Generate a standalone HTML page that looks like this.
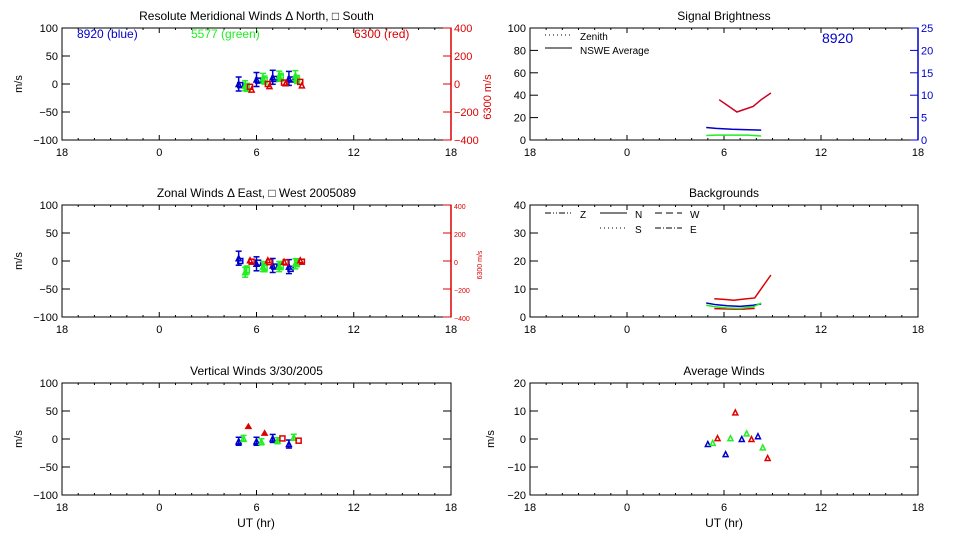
<!DOCTYPE html>
<html><head><meta charset="utf-8"><style>
body{margin:0;background:#fff;width:960px;height:540px;overflow:hidden}
svg{display:block;font-family:"Liberation Sans",sans-serif}
</style></head><body>
<svg id="c" width="960" height="540"></svg>
<script>
// ---- data ----
const xTicks = [-6, 0, 6, 12, 18];
const xTickLabels = ['18', '0', '6', '12', '18'];
// meridional winds
const merT = [5.0, 6.1, 7.1, 8.1];
const merBlue = [0, 8, 12, 10];
const merBlueS = [-2, 6, 9, 8];
const merGreen = [-3, 10, 14, 15];
const merGreenS = [-6, 7, 12, 8];
const merRed = [-20, 0, 10, 15];
const merRedS = [-40, -15, 5, -10];
// zonal winds
const zonBlue = [5, -5, -8, -10];
const zonBlueW = [0, -3, -10, -14];
const zonGreen = [-20, -10, -10, -5];
const zonGreenW = [-16, -12, -8, -3];
const zonRed = [5, 5, -5, 5];
const zonRedW = [-5, -8, -10, -5];
// vertical winds
const verBlue = [-4, -4, 1, -9];
const verGreen = [1, -5, -3, 3];
const verRed = [22, 10, 1, -3];
// average winds
const avgBlue = [-1.8, -5.4, 0, 1];
const avgGreen = [-1.4, 0.3, 2, -3];
const avgRed = [0.3, 9.5, 0, -6.8];
// brightness
const brT = [5.7, 6.2, 6.6, 6.8, 7.2, 7.8, 8.3, 8.9];
const brRed = [36, 31, 27, 25, 27, 30, 36, 42];
const brBlueT = [4.9, 5.5, 6.5, 7.5, 8.3];
const brBlue = [2.8, 2.6, 2.4, 2.3, 2.2];
const brGreen = [1.0, 1.1, 1.1, 1.1, 0.9];
// backgrounds
const bgT = [5.4, 6.0, 6.6, 7.2, 7.9, 8.9];
const bgRed = [6.5, 6.3, 6.0, 6.4, 6.8, 15];
const bgRed2 = [3.0, 2.9, 2.8, 2.8, 3.1, 3.6];
const bgBlueT = [4.9, 5.5, 6.2, 7.0, 7.8, 8.3];
const bgBlue = [5.0, 4.4, 4.0, 3.8, 4.2, 4.7];
const bgGreen = [4.2, 3.6, 3.2, 3.1, 3.6, 5.0];

const S = document.getElementById('c');
const NS = 'http://www.w3.org/2000/svg';
function el(tag, a, txt) { const e = document.createElementNS(NS, tag); for (const k in a) e.setAttribute(k, a[k]); if (txt !== undefined) e.textContent = txt; S.appendChild(e); return e; }

function panel(x0, x1, y0, y1, ymin, ymax, yt, title, name, rticks) {
  const sx = h => x0 + (h + 6) / 24 * (x1 - x0);
  const sy = v => y1 - (v - ymin) / (ymax - ymin) * (y1 - y0);
  let r = el('rect', { x: x0, y: y0, width: x1 - x0, height: y1 - y0, fill: 'none', stroke: '#000', 'stroke-width': 1 });
   
  for (let h = -6; h <= 18; h++) {
    const L = (h % 6 === 0) ? 5 : 2;
    el('line', { x1: sx(h), x2: sx(h), y1: y1, y2: y1 - L, stroke: '#000' });
    el('line', { x1: sx(h), x2: sx(h), y1: y0, y2: y0 + L, stroke: '#000' });
  }
  xTicks.forEach((h, i) => { const t = el('text', { x: sx(h), y: y1 + 16, 'font-size': 11, 'text-anchor': 'middle' }, xTickLabels[i]);   });
  yt.forEach(v => {
    el('line', { x1: x0, x2: x0 + 8, y1: sy(v), y2: sy(v), stroke: '#000' });
    if (rticks) el('line', { x1: x1 - 8, x2: x1, y1: sy(v), y2: sy(v), stroke: '#000' });
    const t = el('text', { x: x0 - 4, y: sy(v) + 4, 'font-size': 11, 'text-anchor': 'end' }, String(v).replace('-', '\u2212'));
     
  });
  const tt = el('text', { x: (x0 + x1) / 2, y: y0 - 8, 'font-size': 12, 'text-anchor': 'middle' }, title);
   
  return { sx, sy };
}
function rightAxis(x1, y0, y1, min, max, ticks, col, fs, label, name, lx, ly) {
  const sy = v => y1 - (v - min) / (max - min) * (y1 - y0);
  el('line', { x1: x1, x2: x1, y1: y0, y2: y1, stroke: col, 'stroke-width': 1.5 });
  ticks.forEach(v => {
    el('line', { x1: x1 - 8, x2: x1, y1: sy(v), y2: sy(v), stroke: col });
    const t = el('text', { x: x1 + 3, y: sy(v) + 4, 'font-size': fs, fill: col }, String(v).replace('-', '\u2212'));
     
  });
  if (label) { const t = el('text', { x: 0, y: 0, 'font-size': fs, fill: col, 'text-anchor': 'middle', transform: `translate(${lx},${ly}) rotate(-90)` }, label);   }
  return sy;
}
function ylab(x, y, txt, name) { const t = el('text', { x: 0, y: 0, 'font-size': 11, 'text-anchor': 'middle', transform: `translate(${x},${y}) rotate(-90)` }, txt);   }
function marker(type, x, y, col, err) {
  if (err) { el('line', { x1: x, x2: x, y1: y - err, y2: y + err, stroke: col, 'stroke-width': 1.5 }); el('line', { x1: x - 3, x2: x + 3, y1: y - err, y2: y - err, stroke: col, 'stroke-width': 1.5 }); el('line', { x1: x - 3, x2: x + 3, y1: y + err, y2: y + err, stroke: col, 'stroke-width': 1.5 }); }
  let m;
  if (type === 'tri') m = el('polygon', { points: `${x - 2.5},${y + 2.5} ${x + 2.5},${y + 2.5} ${x},${y - 2.5}`, fill: 'none', stroke: col, 'stroke-width': 1.5 });
  else if (type === 'sq') m = el('rect', { x: x - 2.5, y: y - 2.5, width: 5, height: 5, fill: 'none', stroke: col, 'stroke-width': 1.5 });
  else m = el('polygon', { points: `${x - 3},${y + 2} ${x + 3},${y + 2} ${x},${y - 3}`, fill: col, stroke: col, 'stroke-width': 1 });
   
}
function series(p, ts, vs, type, col, dt, err, sy) { vs.forEach((v, i) => marker(type, p.sx(ts[i] + dt), (sy || p.sy)(v), col, err)); }
function line(p, ts, vs, col, sy, dash) {
  const pts = vs.map((v, i) => p.sx(ts[i]) + ',' + (sy || p.sy)(v)).join(' ');
  const l = el('polyline', { points: pts, fill: 'none', stroke: col, 'stroke-width': 1.5, 'stroke-dasharray': dash || 'none' });
   
}
const B = '#0000cc', G = '#22ee22', R = '#dd0000';
const yw = [-100, -50, 0, 50, 100];

// Panel 1
let p = panel(62, 451, 28, 140, -100, 100, yw, 'Resolute Meridional Winds \u0394 North, \u25A1 South', 'meridional', false);
ylab(22, 84, 'm/s', 'meridional-y-title');
let ry = rightAxis(451, 28, 140, -400, 400, [-400, -200, 0, 200, 400], R, 11, '6300 m/s', 'meridional', 491, 97);
el('text', { x: 77, y: 38, 'font-size': 12, fill: B }, '8920 (blue)');
el('text', { x: 191, y: 38, 'font-size': 12, fill: G }, '5577 (green)');
el('text', { x: 354, y: 38, 'font-size': 12, fill: R }, '6300 (red)');
series(p, merT, merBlue, 'tri', B, -0.1, 7); series(p, merT, merBlueS, 'sq', B, 0, 0);
series(p, merT, merGreen, 'tri', G, 0.3, 5); series(p, merT, merGreenS, 'sq', G, 0.4, 4);
series(p, merT, merRed, 'sq', R, 0.6, 0, ry); series(p, merT, merRedS, 'tri', R, 0.7, 0, ry);

// Panel 2
p = panel(62, 451, 205, 317, -100, 100, yw, 'Zonal Winds \u0394 East, \u25A1 West 2005089', 'zonal', false);
ylab(22, 261, 'm/s', 'zonal-y-title');
ry = rightAxis(451, 205, 317, -400, 400, [-400, -200, 0, 200, 400], R, 7, '6300 m/s', 'zonal', 482, 265);
series(p, merT, zonBlue, 'tri', B, -0.1, 7); series(p, merT, zonBlueW, 'sq', B, 0, 0);
series(p, merT, zonGreen, 'tri', G, 0.3, 5); series(p, merT, zonGreenW, 'sq', G, 0.4, 4);
series(p, merT, zonRed, 'tri', R, 0.6, 0, ry); series(p, merT, zonRedW, 'sq', R, 0.7, 0, ry);

// Panel 3
p = panel(62, 451, 383, 495, -100, 100, yw, 'Vertical Winds 3/30/2005', 'vertical', true);
ylab(22, 439, 'm/s', 'vertical-y-title');
el('text', { x: 256, y: 527, 'font-size': 12, 'text-anchor': 'middle' }, 'UT (hr)');
series(p, merT, verBlue, 'tri', B, -0.1, 4); series(p, merT, verGreen, 'tri', G, 0.2, 3);
series(p, [5.5, 6.5], verRed.slice(0, 2), 'star', R, 0, 0); series(p, [7.6, 8.6], verRed.slice(2), 'sq', R, 0, 0);

// Panel 4 brightness
p = panel(530, 918, 28, 140, 0, 100, [0, 20, 40, 60, 80, 100], 'Signal Brightness', 'brightness', false);
ry = rightAxis(918, 28, 140, 0, 25, [0, 5, 10, 15, 20, 25], B, 11, null, 'brightness');
el('line', { x1: 545, x2: 572, y1: 35, y2: 35, stroke: '#000', 'stroke-dasharray': '1,3' });
el('text', { x: 580, y: 40, 'font-size': 10 }, 'Zenith');
el('line', { x1: 545, x2: 572, y1: 48, y2: 48, stroke: '#000' });
el('text', { x: 580, y: 54, 'font-size': 10 }, 'NSWE Average');
el('text', { x: 822, y: 43, 'font-size': 14, fill: B }, '8920');
line(p, brT, brRed, '#cc0022');
line(p, brBlueT, brBlue, B, ry); line(p, brBlueT, brGreen, G, ry);

// Panel 5 backgrounds
p = panel(530, 918, 205, 317, 0, 40, [0, 10, 20, 30, 40], 'Backgrounds', 'backgrounds', true);
const lg = [['Z', 545, 213, '6,2,1,2,1,2'], ['N', 600, 213, 'none'], ['W', 655, 213, '7,4'], ['S', 600, 228, '1,3'], ['E', 655, 228, '6,2,1,2']];
lg.forEach(d => { el('line', { x1: d[1], x2: d[1] + 27, y1: d[2], y2: d[2], stroke: '#000', 'stroke-dasharray': d[3] }); el('text', { x: d[1] + 35, y: d[2] + 5, 'font-size': 10 }, d[0]); });
line(p, bgT, bgRed, R); line(p, bgT.slice(0, 5), bgRed2, R);
line(p, bgBlueT, bgBlue, B); line(p, bgBlueT, bgGreen, G);

// Panel 6 average winds
p = panel(530, 918, 383, 495, -20, 20, [-20, -10, 0, 10, 20], 'Average Winds', 'average', true);
ylab(494, 439, 'm/s', 'average-y-title');
el('text', { x: 724, y: 527, 'font-size': 12, 'text-anchor': 'middle' }, 'UT (hr)');
series(p, merT, avgBlue, 'tri', B, 0, 0); series(p, merT, avgGreen, 'tri', G, 0.3, 0); series(p, merT, avgRed, 'tri', R, 0.6, 0);
</script>
</body></html>
